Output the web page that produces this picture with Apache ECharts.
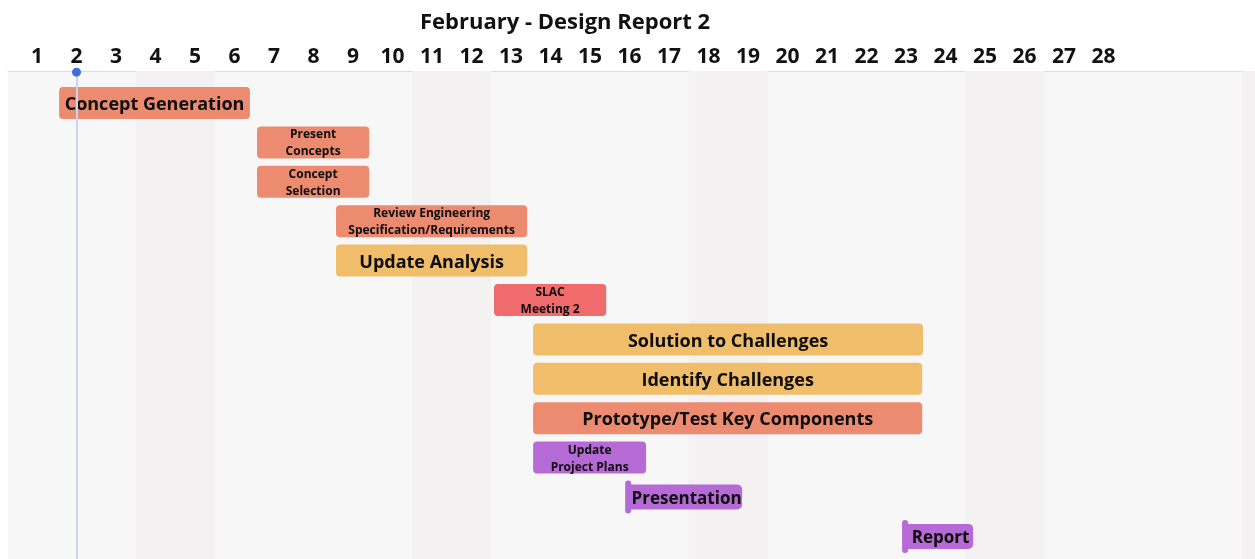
<!DOCTYPE html>
<html>
<head>
<meta charset="utf-8">
<script src="https://cdn.jsdelivr.net/npm/echarts@6/dist/echarts.min.js"></script>
<style>
  html, body { margin: 0; padding: 0; background: #ffffff; }
  #chart { width: 1255px; height: 559px; }
</style>
</head>
<body>
<div id="chart"></div>
<script>
// ---------- data ----------
const titleText = 'February - Design Report 2';
const dayLabels = [1,2,3,4,5,6,7,8,9,10,11,12,13,14,15,16,17,18,19,20,21,22,23,24,25,26,27,28];
const today = 2;
const weekendBands = [[3.5, 5.5], [10.5, 12.5], [17.5, 19.5], [24.5, 26.5], [31.5, 33.5]];
const tasks = [
  'Concept Generation',
  'Present\nConcepts',
  'Concept\nSelection',
  'Review Engineering\nSpecification/Requirements',
  'Update Analysis',
  'SLAC\nMeeting 2',
  'Solution to Challenges',
  'Identify Challenges',
  'Prototype/Test Key Components',
  'Update\nProject Plans',
  'Presentation',
  'Report'
];
const taskStart = [1.56, 6.57, 6.57, 8.57, 8.57, 12.57, 13.56, 13.56, 13.56, 13.56, 15.89, 22.9];
const taskEnd   = [6.39, 9.41, 9.41, 13.41, 13.41, 15.41, 23.43, 23.41, 23.41, 16.42, 18.85, 24.7];
const taskGroup = ['salmon','salmon','salmon','salmon','yellow','red','yellow','yellow','salmon','purple','purple','purple'];
const isMilestone = [false,false,false,false,false,false,false,false,false,false,true,true];

// ---------- styles ----------
const palette = { salmon: '#ec8b70', yellow: '#f0bd6a', red: '#f06b6b', purple: '#b66ad5' };
const FONT = '"Open Sans", Roboto, sans-serif';
const xMin = 0.2658, xMax = 31.835;
const yMin = -0.812, yMax = 11.574;

const taskData = tasks.map((t, i) => [i, taskStart[i], taskEnd[i]]);

function renderTask(params, api) {
  const idx = params.dataIndex;
  const row = api.value(0);
  const p0 = api.coord([api.value(1), row]);
  const p1 = api.coord([api.value(2), row]);
  const label = tasks[idx];
  const color = palette[taskGroup[idx]];
  const small = label.indexOf('\n') >= 0;
  if (!isMilestone[idx]) {
    const h = 32;
    return {
      type: 'group',
      children: [
        { type: 'rect', shape: { x: p0[0], y: p0[1] - h / 2, width: p1[0] - p0[0], height: h, r: 4 },
          style: { fill: color } },
        { type: 'text', x: (p0[0] + p1[0]) / 2, y: p0[1] + (small ? 1 : 2),
          style: { text: label, fill: '#0d0d0d', fontFamily: FONT, fontWeight: 'bold',
                   fontSize: small ? 12 : 18, lineHeight: small ? 17 : 22,
                   align: 'center', verticalAlign: 'middle' } }
      ]
    };
  }
  const poleW = 6, poleH = 33, boxH = 25;
  return {
    type: 'group',
    children: [
      { type: 'rect', shape: { x: p0[0], y: p0[1] - poleH / 2, width: poleW, height: poleH, r: 3 },
        style: { fill: color } },
      { type: 'rect', shape: { x: p0[0] + 2, y: p0[1] - boxH / 2, width: p1[0] - p0[0] - 2, height: boxH, r: [0, 5, 5, 0] },
        style: { fill: color } },
      { type: 'text', x: (p0[0] + poleW + p1[0]) / 2, y: p0[1] + 2,
        style: { text: label, fill: '#0d0d0d', fontFamily: FONT, fontWeight: 'bold', fontSize: 17,
                 align: 'center', verticalAlign: 'middle' } }
    ]
  };
}

const chart = echarts.init(document.getElementById('chart'), null, { renderer: 'canvas' });
chart.setOption({
  backgroundColor: '#ffffff',
  animation: false,
  title: {
    text: titleText, left: 415, top: 7,
    textStyle: { fontFamily: FONT, fontWeight: 'bold', fontSize: 22, color: '#111111' }
  },
  grid: {
    left: 8, right: 0, top: 71, bottom: 0,
    show: true, backgroundColor: '#f7f7f7', borderWidth: 0,
    outerBoundsMode: 'none'
  },
  xAxis: {
    type: 'value', position: 'top', min: xMin, max: xMax,
    axisLine: { show: true, onZero: false, lineStyle: { color: '#dcdcdc', width: 1 } },
    axisTick: { show: false },
    splitLine: { show: false },
    axisLabel: {
      customValues: dayLabels, margin: 3,
      fontFamily: FONT, fontWeight: 'bold', fontSize: 21, color: '#111111',
      showMinLabel: true, showMaxLabel: true
    }
  },
  yAxis: {
    type: 'value', inverse: true, min: yMin, max: yMax,
    show: false, splitLine: { show: false }
  },
  series: [
    {
      type: 'custom', z: 1, silent: true,
      renderItem: () => ({ type: 'group', children: [] }),
      data: [[0, 0]],
      markArea: {
        silent: true,
        itemStyle: { color: '#f3f1f2' },
        data: weekendBands.map(b => [{ xAxis: b[0] }, { xAxis: b[1] }])
      },
      markLine: {
        silent: true, symbol: 'none',
        label: { show: false },
        lineStyle: { color: '#c9d5ee', width: 2, type: 'solid' },
        data: [{ xAxis: today }]
      }
    },
    {
      type: 'custom', z: 3, clip: false,
      renderItem: renderTask,
      encode: { x: [1, 2], y: 0 },
      data: taskData
    },
    {
      type: 'scatter', z: 10, silent: true, clip: false,
      symbol: 'circle', symbolSize: 9,
      itemStyle: { color: '#3d6fd8', borderWidth: 0, opacity: 1 },
      data: [[today, yMin + 0.03]]
    }
  ]
});
</script>
</body>
</html>
